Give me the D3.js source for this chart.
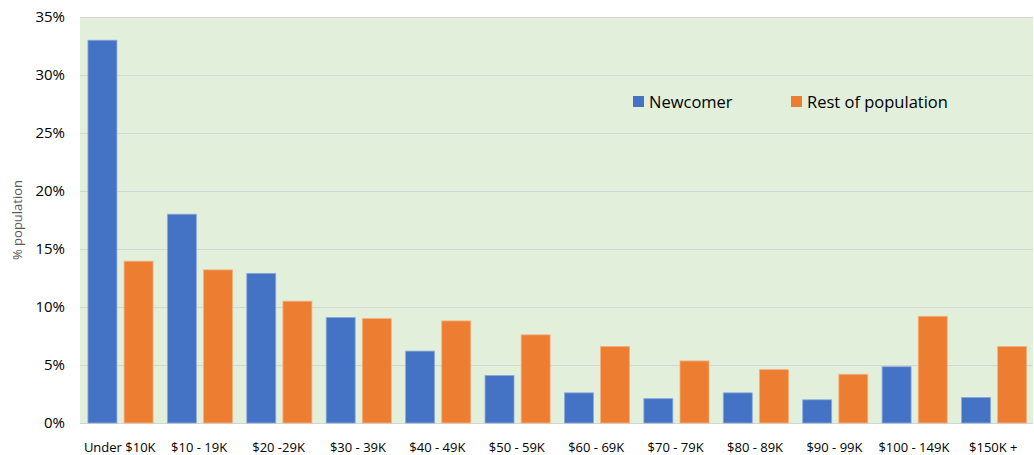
<!DOCTYPE html>
<html><head><meta charset="utf-8">
<script src="https://cdn.jsdelivr.net/npm/d3@7"></script>
<style>body{margin:0;background:#fff;}svg{display:block;font-family:"Open Sans",sans-serif;}</style>
</head><body><svg id="c" width="1034" height="455"></svg>
<script>
const categories = ["Under $10K","$10 - 19K","$20 -29K","$30 - 39K","$40 - 49K","$50 - 59K","$60 - 69K","$70 - 79K","$80 - 89K","$90 - 99K","$100 - 149K","$150K +"];
const newcomer = [33.0,18.0,12.9,9.1,6.2,4.1,2.6,2.1,2.6,2.0,4.85,2.2];
const rest = [13.95,13.2,10.5,9.0,8.8,7.6,6.6,5.35,4.6,4.2,9.2,6.6];
const seriesNames = ["Newcomer","Rest of population"];
const yTicks = [0,5,10,15,20,25,30,35];

const svg = d3.select("#c");
const L=80, R=1033, T=17, B=423;
const x = d3.scaleBand().domain(categories).range([L,R]).paddingInner(0).paddingOuter(0);
const y = d3.scaleLinear().domain([0,35]).range([B,T]);
const colors = ["#4472c4","#ed7d31"];
const strokes = ["#8faadc","#f4b183"];

svg.append("rect").attr("x",L).attr("y",T).attr("width",R-L).attr("height",B-T).attr("fill","#e2efda");
svg.append("g").selectAll("line").data(yTicks).join("line")
  .attr("x1",L).attr("x2",R).attr("y1",d=>y(d)+0.5).attr("y2",d=>y(d)+0.5)
  .attr("stroke","#d4d4d4").attr("stroke-width",1.2);

const bw = x.bandwidth();
const barW = bw*0.365, gap = bw*0.09, off = bw*0.1;
[newcomer,rest].forEach((vals,si)=>{
  svg.append("g").selectAll("rect").data(vals).join("rect")
    .attr("x",(d,i)=>x(categories[i])+off+si*(barW+gap))
    .attr("y",d=>y(d))
    .attr("width",barW)
    .attr("height",d=>B-y(d))
    .attr("fill",colors[si]).attr("stroke",strokes[si]).attr("stroke-width",0.8);
});

const yAxis = d3.axisLeft(y).tickValues(yTicks).tickFormat(d=>d+"%").tickSize(0).tickPadding(15);
const ga = svg.append("g").attr("transform",`translate(${L},0)`).call(yAxis);
ga.select(".domain").remove();
ga.selectAll("text").attr("font-size",15).attr("fill","#000").attr("font-family","'Open Sans',sans-serif");

const xAxis = d3.axisBottom(x).tickSize(0).tickPadding(20);
const gx = svg.append("g").attr("transform",`translate(0,${B})`).call(xAxis);
gx.select(".domain").remove();
gx.selectAll("text").attr("font-size",13).attr("fill","#000").attr("font-family","'Open Sans',sans-serif");

svg.append("text").attr("transform","translate(22,220) rotate(-90)").attr("text-anchor","middle")
  .attr("font-size",13).attr("fill","#595959").text("% population");

const legX = [633,791];
seriesNames.forEach((n,i)=>{
  svg.append("rect").attr("x",legX[i]).attr("y",96).attr("width",11).attr("height",11).attr("fill",colors[i]);
  svg.append("text").attr("x",legX[i]+16).attr("y",107.5).attr("font-size",16.5).attr("fill","#000").text(n);
});
</script></body></html>
